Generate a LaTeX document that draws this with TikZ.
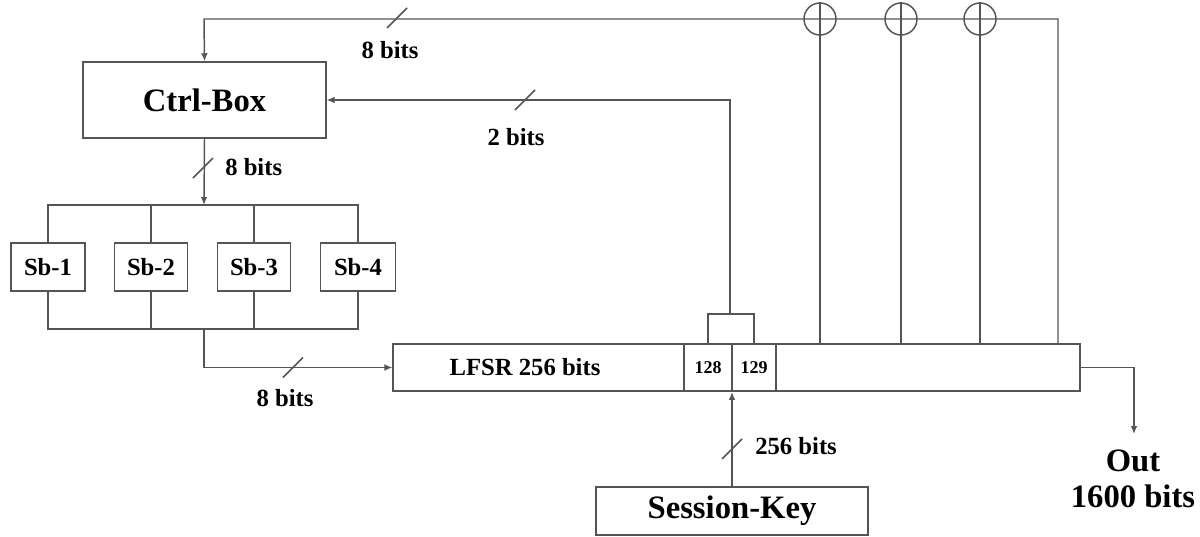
\documentclass[tikz,border=0pt]{standalone}
\usepackage{fontspec}
\setmainfont{Liberation Serif}
\usetikzlibrary{arrows.meta}
\definecolor{ln}{HTML}{555555}
\tikzset{
  wire/.style={draw=ln, line width=1.1pt},
  arr/.style={wire, -{Latex[length=6pt,width=5pt]}},
  box/.style={draw=ln, line width=1.1pt, rectangle, inner sep=0pt, font=\fontsize{18.5}{20}\selectfont\bfseries},
  bigbox/.style={box, font=\fontsize{24.5}{26}\selectfont\bfseries},
  cell/.style={box, font=\fontsize{13.5}{15}\selectfont\bfseries},
  lbl/.style={inner sep=0pt, font=\fontsize{18.5}{20}\selectfont\bfseries},
  xor/.style={draw=ln, line width=1.1pt, circle, minimum size=24pt, inner sep=0pt},
  slash/.pic={\draw[wire] (-10,10) -- (10,-10);}
}
\begin{document}
\begin{tikzpicture}[x=0.75pt, y=-0.75pt]
\useasboundingbox (0,0) rectangle (1200,536);
% boxes
\node[bigbox, minimum width=182pt, minimum height=57pt] (ctrl) at (204.5,100) {Ctrl-Box};
\node[box, minimum width=55.5pt, minimum height=36pt] (sb1) at (48,267) {Sb-1};
\node[box, minimum width=55pt, minimum height=36pt] (sb2) at (151,267) {Sb-2};
\node[box, minimum width=55pt, minimum height=36pt] (sb3) at (254,267) {Sb-3};
\node[box, minimum width=56pt, minimum height=36pt] (sb4) at (358,267) {Sb-4};
\node[box, minimum width=515pt, minimum height=35.5pt] (lfsr) at (736.5,367.5) {};
\node[lbl] (lfsrtxt) at (525,367.5) {LFSR 256 bits};
\node[cell, minimum width=36pt, minimum height=35.5pt] (c128) at (708,367.5) {128};
\node[cell, minimum width=33pt, minimum height=35.5pt] (c129) at (754,367.5) {129};
\node[bigbox, minimum width=204pt, minimum height=36pt] (key) at (732,511) {Session-Key};
\node[inner sep=0pt, align=center, font=\fontsize{24.5}{26.5}\selectfont\bfseries] (out) at (1133,479) {Out\\1600 bits};
\coordinate (outtip) at (1134,434);
% xor circles
\node[xor] (x1) at (820,19) {};
\node[xor] (x2) at (901,19) {};
\node[xor] (x3) at (980,19) {};
% top feedback line
\coordinate (fbr) at (1058,344);
\draw[arr] (fbr) -- (1058,19) -- (204,19) -- (ctrl.north);
\foreach \x in {x1,x2,x3}{
  \draw[wire] (\x.north) -- (\x |- lfsr.north);
}
% 2 bits from cells 128/129
\coordinate (hump) at (730,314);
\draw[wire] (c128.north) -- (c128.north |- hump) -- (c129.north |- hump) -- (c129.north);
\draw[arr] (hump) -- (730,100) -- (ctrl.east);
% ctrl -> sboxes
\coordinate (topbar) at (204,205);
\draw[arr] (ctrl.south) -- (topbar);
\draw[wire] (sb1.north) -- (sb1.north |- topbar) -- (sb4.north |- topbar) -- (sb4.north);
\draw[wire] (sb2.north) -- (sb2.north |- topbar);
\draw[wire] (sb3.north) -- (sb3.north |- topbar);
\coordinate (botbar) at (204,329);
\draw[wire] (sb1.south) -- (sb1.south |- botbar) -- (sb4.south |- botbar) -- (sb4.south);
\draw[wire] (sb2.south) -- (sb2.south |- botbar);
\draw[wire] (sb3.south) -- (sb3.south |- botbar);
\draw[arr] (botbar) -- (204,367.5) -- (lfsr.west);
% session key
\draw[arr] (key.north) -- (key.north |- lfsr.south);
% out
\draw[arr] (lfsr.east) -- (outtip |- lfsr.east) -- (outtip);
% slashes
\pic at (397,18) {slash};
\pic at (525,100) {slash};
\pic at (203,168) {slash};
\pic at (293,367.5) {slash};
\pic at (732,449) {slash};
% labels
\node[lbl] (l1) at (390,50) {8 bits};
\node[lbl] (l2) at (516,137) {2 bits};
\node[lbl, anchor=west] (l3) at (225,167) {8 bits};
\node[lbl] (l4) at (285,398) {8 bits};
\node[lbl, anchor=west] (l5) at (755,446) {256 bits};
\end{tikzpicture}
\end{document}
